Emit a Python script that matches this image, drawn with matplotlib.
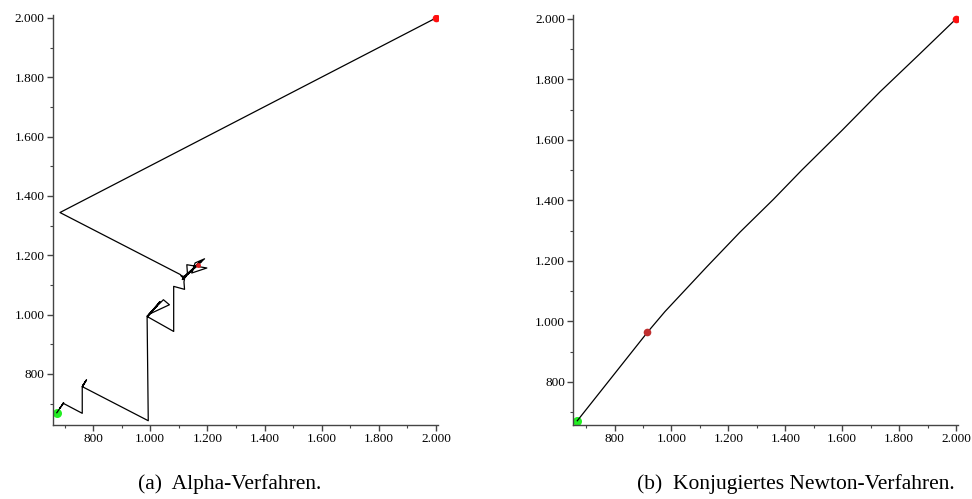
import matplotlib
matplotlib.use("Agg")
import matplotlib.pyplot as plt
from matplotlib.ticker import FixedLocator, MultipleLocator

# Alpha method: iterate path from the start point (2000, 2000) down to the minimum
alpha_x = [2000, 684, 1105, 1118, 1108, 1125, 1112, 1130, 1128, 1198, 1145, 1157,
           1190, 1135, 1175, 1140, 1180, 1130, 1165, 1120, 1150, 1115, 1122, 1118,
           1120, 1082, 1082, 988, 1046, 1067, 1000, 1034, 995, 1025, 992, 1010,
           989, 993, 762, 777, 764, 774, 763, 770, 762, 762, 695, 690, 697, 683,
           688, 673]
alpha_y = [2000, 1344, 1135, 1122, 1130, 1128, 1118, 1140, 1168, 1157, 1140, 1174,
           1188, 1142, 1178, 1145, 1180, 1136, 1165, 1128, 1152, 1120, 1132, 1110,
           1085, 1095, 943, 994, 1050, 1033, 1003, 1044, 1000, 1030, 996, 1015,
           990, 642, 757, 780, 760, 776, 758, 768, 757, 667, 701, 692, 703, 684,
           690, 669]
alpha_start = (2000, 2000)
alpha_mark = (1168, 1168)
alpha_end = (673, 669)

# Conjugate Newton method path
newton_x = [2000, 1870, 1733, 1600, 1458, 1358, 1241, 1124, 977, 915, 669]
newton_y = [2000, 1882, 1759, 1632, 1500, 1403, 1295, 1180, 1032, 963, 671]
newton_start = (2000, 2000)
newton_mid = (915, 963)
newton_end = (669, 671)

major_ticks = [800, 1000, 1200, 1400, 1600, 1800, 2000]
tick_labels = ["800", "1.000", "1.200", "1.400", "1.600", "1.800", "2.000"]

captions = ["(a)  Alpha-Verfahren.", "(b)  Konjugiertes Newton-Verfahren."]

fig = plt.figure(figsize=(9.72, 4.99), dpi=100)
W, H = 972, 499


def px_axes(x0, x1, y0, y1):
    return fig.add_axes([x0 / W, 1 - y1 / H, (x1 - x0) / W, (y1 - y0) / H])


def style(ax, xlim, ylim):
    ax.set_xlim(*xlim)
    ax.set_ylim(*ylim)
    for s in ("top", "right"):
        ax.spines[s].set_visible(False)
    for s in ("left", "bottom"):
        ax.spines[s].set_color("#444444")
        ax.spines[s].set_linewidth(1.0)
    ax.xaxis.set_major_locator(FixedLocator(major_ticks))
    ax.yaxis.set_major_locator(FixedLocator(major_ticks))
    ax.set_xticklabels(tick_labels)
    ax.set_yticklabels(tick_labels)
    ax.xaxis.set_minor_locator(MultipleLocator(100))
    ax.yaxis.set_minor_locator(MultipleLocator(100))
    ax.tick_params(which="major", direction="out", length=4, width=1.0,
                   color="#444444", labelsize=9.5, pad=2)
    ax.tick_params(which="minor", direction="out", length=2, width=0.8,
                   color="#444444")
    for lab in ax.get_xticklabels() + ax.get_yticklabels():
        lab.set_fontfamily("Liberation Serif")


ax1 = px_axes(52.7, 438, 15, 425)
style(ax1, (658.6, 2007), (627.6, 2010))
ax1.plot(alpha_x, alpha_y, color="black", lw=0.9, zorder=2)
ax1.plot(*alpha_mark, "o", color="#e02020", ms=2.5, zorder=3)
ax1.plot(*alpha_start, "o", color="#ff1010", ms=5.5, mec="none", zorder=4)
ax1.plot(*alpha_end, "o", color="#22ee22", ms=6.5, mec="none", zorder=1)

ax2 = px_axes(573.3, 958, 15, 425)
style(ax2, (655, 2007), (657, 2013))
ax2.plot(newton_x, newton_y, color="black", lw=0.9, zorder=2)
ax2.plot(*newton_mid, "o", color="#c03030", ms=5.5, mec="none", zorder=3)
ax2.plot(*newton_start, "o", color="#ff1010", ms=5.5, mec="none", zorder=4)
ax2.plot(*newton_end, "o", color="#22ee22", ms=6.5, mec="none", zorder=1)

fig.text(230 / W, 1 - 484 / H, captions[0], ha="center", va="center",
         fontsize=15.5, family="Liberation Serif")
fig.text(796 / W, 1 - 484 / H, captions[1], ha="center", va="center",
         fontsize=15.5, family="Liberation Serif")

fig.savefig("out.png", dpi=100)
